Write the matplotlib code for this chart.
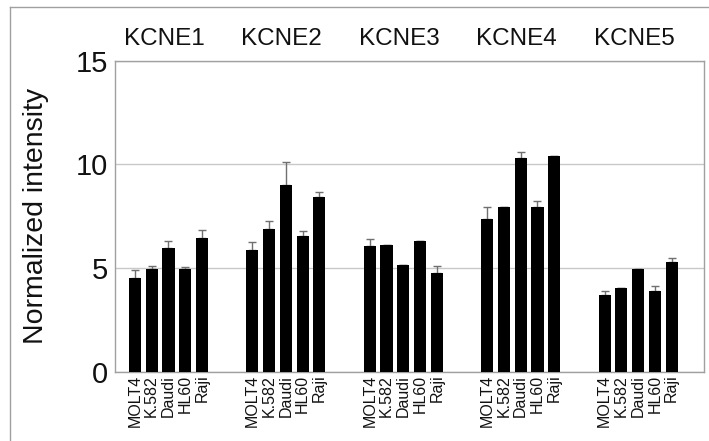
import numpy as np
import matplotlib
matplotlib.use("Agg")
import matplotlib.pyplot as plt
from matplotlib.lines import Line2D

plt.rcParams['font.family'] = ['Liberation Sans', 'DejaVu Sans']

genes = ["KCNE1", "KCNE2", "KCNE3", "KCNE4", "KCNE5"]
cells = ["MOLT4", "K.582", "Daudi", "HL60", "Raji"]

# mean intensity per gene (rows) and cell line (columns)
kcne1 = [4.52, 4.98, 5.97, 4.98, 6.45]
kcne2 = [5.87, 6.91, 9.00, 6.53, 8.41]
kcne3 = [6.05, 6.13, 5.16, 6.32, 4.76]
kcne4 = [7.37, 7.97, 10.31, 7.97, 10.42]
kcne5 = [3.73, 4.05, 4.95, 3.91, 5.32]

# upper error bars
err1 = [0.38, 0.13, 0.33, 0.07, 0.40]
err2 = [0.39, 0.36, 1.14, 0.26, 0.24]
err3 = [0.37, 0.0, 0.0, 0.0, 0.34]
err4 = [0.59, 0.0, 0.30, 0.25, 0.0]
err5 = [0.18, 0.0, 0.03, 0.21, 0.16]

values = [kcne1, kcne2, kcne3, kcne4, kcne5]
errors = [err1, err2, err3, err4, err5]

fig = plt.figure(figsize=(7.09, 4.41), dpi=100)
ax = fig.add_axes([115/709, 69/441, (704-115)/709, (372-60.7)/441])

stride = 7
for g in range(len(genes)):
    x = g*stride + np.arange(len(cells))
    ax.bar(x, values[g], width=0.72, color="black", zorder=3)
    yerr = [np.zeros(len(cells)), errors[g]]
    ax.errorbar(x, values[g], yerr=yerr, fmt="none", ecolor="#707070",
                elinewidth=1, capsize=3, capthick=1, zorder=2)
    ax.text(g*stride + 1.75, 1.07, genes[g], transform=ax.get_xaxis_transform(),
            ha="center", va="center", fontsize=17.5, color="#111111")

xs = np.concatenate([g*stride + np.arange(len(cells)) for g in range(len(genes))])
ax.set_xticks(xs)
ax.set_xticklabels(cells*len(genes), rotation=90, fontsize=11.5, va="top", ha="center")
ax.set_xlim(-1.19, 33.93)
ax.set_ylim(0, 15)
ax.set_yticks([0, 5, 10, 15])
ax.tick_params(axis="y", length=0, pad=5, labelsize=21, labelcolor="#111111")
ax.tick_params(axis="x", length=0, pad=2, labelcolor="#111111")
ax.yaxis.grid(True, color="#c8c8c8", linewidth=1)
ax.set_axisbelow(True)
for s in ax.spines.values():
    s.set_color("#a0a0a0")
    s.set_linewidth(1)

fig.text(36/709, 1 - 216/441, "Normalized intensity", rotation=90,
         ha="center", va="center", fontsize=20.5, color="#111111")

# outer frame of the figure (left and top edges)
fig.add_artist(Line2D([10/709, 10/709], [0, 1 - 7/441], color="#a0a0a0", linewidth=1))
fig.add_artist(Line2D([10/709, 1], [1 - 7/441, 1 - 7/441], color="#a0a0a0", linewidth=1))

fig.savefig("out.png", dpi=100)
